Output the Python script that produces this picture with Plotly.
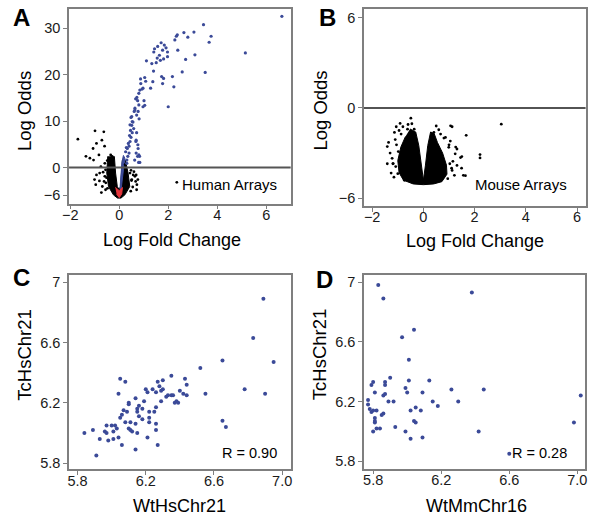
import plotly.graph_objects as go

W, H = 600, 524
FONT = "Liberation Sans, Arial, Helvetica, sans-serif"
BLUE = "#3b4a98"
RED = "#e3343a"

# ---------------- Panel A: Human arrays (volcano) ----------------
# dense core of the volcano (outline of the black cloud)
a_core_x = [-0.47, -0.51, -0.44, -0.24, -0.07, 0.07, 0.23, 0.43, 0.36, 0.25, 0.13, 0.09, 0.05,
            0.0, -0.08, -0.15, -0.2]
a_core_y = [2.4, -1.2, -4.1, -5.9, -6.6, -6.6, -5.9, -4.1, -1.2, 1.6, 1.6, -1.2, -4.1,
            -4.8, -4.1, -1.2, 2.4]
# blue inner streak on the right arm
a_streak_x = [0.03, 0.07, 0.11, 0.17, 0.23, 0.17, 0.12, 0.07]
a_streak_y = [-4.6, -1.5, 1.2, 2.6, 2.0, -0.5, -3.5, -5.0]
# red tip at the bottom
a_tip_x = [-0.16, -0.05, 0.0, 0.05, 0.13, 0.1, 0.0, -0.11]
a_tip_y = [-4.3, -4.7, -5.0, -4.7, -4.3, -5.7, -6.5, -5.7]

a_blue_x = [6.64, 3.44, 3.75, 3.67, 3.05, 2.64, 2.80, 2.37, 2.33, 2.27, 2.39, 3.09, 2.71, 5.15,
            3.51, 2.57, 2.17, 2.23, 2.00, 1.57, 1.71, 1.84, 1.91, 1.77, 1.44, 1.41, 1.97, 1.64,
            1.81, 1.68, 1.55, 1.51, 1.33, 1.11, 1.40, 1.97, 1.73, 1.81, 1.77, 1.37, 1.28, 0.87,
            1.04, 0.88, 1.08, 0.97, 0.84, 0.93, 0.80, 0.72, 0.75, 0.67, 1.01, 1.04, 0.97, 0.80,
            0.64, 0.61, 0.77, 0.51, 0.53, 0.81, 0.44, 0.31, 0.31, 0.35, 0.40, 0.33, 0.40, 0.44,
            0.48, 0.53, 0.59, 0.51, 0.48, 0.71, 0.68, 0.77, 0.75, 0.84, 0.80, 0.71, 0.64, 0.69,
            0.76, 0.69, 0.83, 0.63, 0.79, 0.26, 0.29, 0.37, 0.42, 0.46, 0.56]
a_blue_y = [32.6, 30.8, 28.3, 27.0, 29.2, 29.1, 28.1, 28.6, 28.3, 27.5, 25.3, 24.3, 23.3, 24.7,
            20.5, 20.6, 19.6, 17.4, 13.1, 26.1, 26.9, 26.4, 25.8, 25.3, 25.6, 24.9, 24.9, 24.2,
            23.4, 23.1, 23.6, 22.6, 22.4, 23.0, 20.8, 23.9, 19.6, 19.2, 18.1, 18.5, 17.1, 19.1,
            19.4, 18.1, 18.6, 17.1, 16.7, 16.9, 16.0, 15.1, 14.4, 14.8, 14.4, 13.4, 13.1, 13.5,
            12.8, 12.1, 12.1, 11.0, 9.9, 10.5, 9.2, 0.9, 1.6, 2.4, 3.1, 4.1, 4.6, 5.6,
            6.5, 7.5, 8.4, 9.1, 10.8, 7.5, 5.6, 4.1, 2.4, 1.1, 2.7, 11.3, 12.4, 5.9,
            4.9, 3.1, 2.4, 1.6, 1.1, 3.4, 4.3, 5.2, 6.9, 8.0, 9.8]

a_black_x = [-1.69, -0.99, -0.63, -0.93, -1.07, -0.71, -0.60, -0.83, -1.20, -1.05, -1.36, -0.35,
             -0.29, -0.49, -0.59, -0.75, -0.56, -0.80, -1.01, -0.93, -0.81, -0.69, -0.96, -0.73,
             -0.56, -0.59, -0.43, 0.44, 0.57, 0.67, 0.51, 0.71, 0.64, 0.37, 2.35, 0.24, 0.69,
             0.76, 0.72, -0.52, -0.55, -0.48, 0.48, 0.50, 0.47, -0.62, -0.66, 0.55, 0.60]
a_black_y = [6.1, 7.9, 7.7, 5.2, 4.1, 5.9, 4.6, 2.7, 2.0, 1.6, 2.4, 2.7,
             2.4, 1.5, 0.9, 0.2, -0.5, -1.2, -2.6, -1.6, -2.9, -4.1, -3.7, -5.4,
             -4.8, -1.9, -0.1, -1.2, -1.6, -3.0, -2.6, -4.8, -1.9, -3.7, -3.2, 0.6, -1.6,
             -2.6, -3.7, -2.2, -3.3, -4.5, -0.6, -2.8, -5.1, -3.0, -1.0, -4.2, -0.9]

# ---------------- Panel B: Mouse arrays (volcano) ----------------
b_core_x = [-0.52, -0.3, -0.18, -0.08, 0.0, 0.08, 0.17, 0.28, 0.42, 0.55, 0.75, 0.9, 0.92,
            0.72, 0.4, 0.0, -0.4, -0.78, -0.95, -1.0, -0.88, -0.7]
b_core_y = [-1.4, -1.6, -2.5, -3.8, -4.8, -3.8, -2.5, -1.6, -1.7, -2.3, -3.0, -3.8, -4.4,
            -4.9, -5.05, -5.1, -5.05, -4.8, -4.3, -3.5, -2.6, -1.9]

b_black_x = [-0.49, -0.91, -1.06, -1.36, -1.41, -1.41, -1.19, -1.26, -1.00, -0.87, -0.74, -1.13,
             -0.87, -0.62, -0.36, 1.12, 1.67, 3.04, 2.21, 2.21, 1.56, 1.50, 1.31, 1.24, 1.31,
             1.12, 1.03, 0.86, 0.67, 0.41, 0.99, 1.21, 1.06, 1.45, 1.26, 1.49, 1.64, -1.18,
             -1.30, -1.10, -0.95, -1.15, 1.05, 0.95, 1.10, -0.98, -1.08, -1.22, -1.05, -0.80,
             -0.60, 0.60, 0.80, 1.00, 1.15, 0.50, -0.45]
b_black_y = [-0.68, -1.03, -1.25, -2.29, -2.57, -3.71, -3.71, -4.33, -4.37, -4.15, -4.81, -1.63,
             -1.74, -1.41, -1.41, -1.25, -1.82, -1.08, -3.10, -3.32, -4.48, -3.23, -2.73, -3.05,
             -3.82, -4.15, -3.71, -1.96, -1.74, -1.63, -2.62, -4.48, -1.19, -3.30, -2.60, -4.00,
             -4.50, -3.70, -3.00, -2.10, -1.50, -4.60, -2.20, -4.70, -4.00, -2.90, -3.90, -3.35,
             -2.45, -1.25, -1.10, -1.45, -2.00, -2.45, -3.55, -1.20, -1.05]

# ---------------- Panel C ----------------
c_x = [5.84, 5.89, 5.91, 5.93, 5.96, 5.97, 5.97, 5.98, 6.00, 6.01, 6.01, 6.02, 6.03, 6.04, 6.04,
       6.05, 6.05, 6.06, 6.06, 6.07, 6.08, 6.08, 6.09, 6.10, 6.10, 6.10, 6.11, 6.11, 6.12, 6.14,
       6.14, 6.14, 6.15, 6.15, 6.15, 6.16, 6.16, 6.18, 6.18, 6.19, 6.20, 6.21, 6.21, 6.22, 6.22,
       6.22, 6.24, 6.25, 6.26, 6.26, 6.26, 6.26, 6.27, 6.27, 6.28, 6.29, 6.29, 6.30, 6.30, 6.32,
       6.33, 6.35, 6.35, 6.36, 6.37, 6.38, 6.39, 6.40, 6.42, 6.43, 6.44, 6.44, 6.52, 6.55, 6.65,
       6.65, 6.67, 6.78, 6.83, 6.89, 6.90, 6.95]
c_y = [6.00, 6.02, 5.85, 5.96, 6.01, 6.00, 6.05, 5.95, 6.05, 5.96, 6.01, 6.05, 6.03, 5.97, 6.26,
       6.36, 6.10, 6.12, 5.92, 6.15, 6.34, 6.07, 6.14, 6.20, 6.19, 6.03, 6.07, 6.02, 6.01, 6.23,
       6.06, 5.89, 6.16, 6.14, 6.00, 6.18, 6.11, 6.09, 6.16, 6.21, 6.29, 5.97, 6.27, 6.14, 6.07,
       6.10, 6.29, 6.14, 6.27, 6.17, 6.06, 6.02, 6.34, 5.92, 6.31, 6.28, 6.21, 6.29, 6.35, 6.24,
       6.25, 6.38, 6.25, 6.25, 6.20, 6.21, 6.20, 6.28, 6.26, 6.36, 6.25, 6.32, 6.43, 6.26, 6.48,
       6.08, 6.04, 6.29, 6.63, 6.89, 6.26, 6.47]

# ---------------- Panel D ----------------
d_x = [5.83, 5.86, 6.04, 5.97, 6.38, 6.01, 5.80, 5.79, 5.81, 5.87, 5.87, 5.90, 5.86, 5.87, 5.77,
       5.77, 5.78, 5.79, 5.80, 5.82, 5.81, 5.81, 5.81, 5.86, 5.85, 5.80, 5.82, 5.84, 5.89, 5.92,
       5.93, 5.99, 6.00, 6.01, 5.99, 6.02, 6.02, 6.04, 6.05, 6.05, 6.08, 6.09, 6.09, 6.13, 6.15,
       6.18, 6.26, 6.30, 6.42, 6.45, 6.60, 6.98, 7.02]
d_y = [6.98, 6.89, 6.68, 6.63, 6.93, 6.48, 6.33, 6.31, 6.26, 6.33, 6.31, 6.36, 6.24, 6.25, 6.21,
       6.18, 6.15, 6.13, 6.14, 6.14, 6.07, 6.06, 6.09, 6.12, 6.11, 6.00, 6.02, 6.02, 6.20, 6.20,
       6.03, 6.29, 6.26, 6.34, 6.00, 6.14, 5.95, 6.07, 6.06, 6.16, 6.14, 6.26, 5.96, 6.34, 6.20,
       6.17, 6.28, 6.20, 6.00, 6.28, 5.85, 6.06, 6.24]

fig = go.Figure()

def poly(x, y, color, xa, ya):
    fig.add_trace(go.Scatter(x=x, y=y, mode="lines", fill="toself", fillcolor=color,
                             line=dict(width=1, color=color), xaxis=xa, yaxis=ya,
                             hoverinfo="skip", showlegend=False))

def pts(x, y, color, size, xa, ya):
    fig.add_trace(go.Scatter(x=x, y=y, mode="markers", marker=dict(size=size, color=color,
                             line=dict(width=0)), xaxis=xa, yaxis=ya, showlegend=False))

# A
poly(a_core_x, a_core_y, "black", "x", "y")
poly(a_streak_x, a_streak_y, BLUE, "x", "y")
poly(a_tip_x, a_tip_y, RED, "x", "y")
pts(a_black_x, a_black_y, "black", 2.8, "x", "y")
pts(a_blue_x, a_blue_y, BLUE, 3.2, "x", "y")
# B
poly(b_core_x, b_core_y, "black", "x2", "y2")
pts(b_black_x, b_black_y, "black", 2.8, "x2", "y2")
# C, D
pts(c_x, c_y, BLUE, 4, "x3", "y3")
pts(d_x, d_y, BLUE, 4, "x4", "y4")

def ax(domain, rng, tickvals, ticktext=None, anchor=None, xaxis=True):
    d = dict(domain=domain, range=rng, tickvals=tickvals, showgrid=False, zeroline=False,
             showline=True, mirror=True, linecolor="#7f7f7f", linewidth=1.5,
             ticks="outside", ticklen=4, tickwidth=1, tickcolor="#7f7f7f",
             tickfont=dict(family=FONT, size=14.5, color="#1a1a1a"), anchor=anchor)
    if xaxis:
        d["ticklabelstandoff"] = -7
    if ticktext is not None:
        d["ticktext"] = ticktext
    return d

fig.update_layout(
    width=W, height=H, margin=dict(l=0, r=0, t=0, b=0),
    paper_bgcolor="white", plot_bgcolor="white", showlegend=False,
    xaxis=ax([0.105, 0.48], [-2.05, 7.0], [-2, 0, 2, 4, 6], anchor="y"),
    yaxis=ax([0.611, 0.984], [-7.8, 34.1], [-6, 0, 10, 20, 30], anchor="x", xaxis=False),
    xaxis2=ax([0.604, 0.979], [-2.32, 6.33], [-2, 0, 2, 4, 6], anchor="y2"),
    yaxis2=ax([0.607, 0.984], [-6.5, 6.55], [-6, 0, 6], anchor="x2", xaxis=False),
    xaxis3=ax([0.105, 0.48], [5.75, 7.05], [5.8, 6.2, 6.6, 7.0], ["5.8", "6.2", "6.6", "7.0"], anchor="y3"),
    yaxis3=ax([0.101, 0.475], [5.758, 7.051], [5.8, 6.2, 6.6, 7.0], ["5.8", "6.2", "6.6", "7"], anchor="x3", xaxis=False),
    xaxis4=ax([0.604, 0.978], [5.746, 7.045], [5.8, 6.2, 6.6, 7.0], ["5.8", "6.2", "6.6", "7.0"], anchor="y4"),
    yaxis4=ax([0.1025, 0.4746], [5.751, 7.049], [5.8, 6.2, 6.6, 7.0], ["5.8", "6.2", "6.6", "7"], anchor="x4", xaxis=False),
)

# zero lines
fig.add_shape(type="line", xref="x domain", yref="y", x0=0, x1=1, y0=0, y1=0,
              line=dict(color="#555555", width=2.2), layer="above")
fig.add_shape(type="line", xref="x2 domain", yref="y2", x0=0, x1=1, y0=0, y1=0,
              line=dict(color="#1a1a1a", width=1.5), layer="above")

def ann(text, px, py, size, angle=0, xanchor="center", bold=False):
    fig.add_annotation(text=("<b>%s</b>" % text) if bold else text, x=px / W, y=1 - py / H,
                       xref="paper", yref="paper", showarrow=False, textangle=angle,
                       xanchor=xanchor, yanchor="middle",
                       font=dict(family=FONT, size=size, color="black"))

# panel letters
ann("A", 15, 17, 24, bold=True)
ann("B", 325, 17, 24, bold=True)
ann("C", 15, 278, 24, bold=True)
ann("D", 322, 280, 24, bold=True)
# axis titles
ann("Log Odds", 18, 111, 18.5, angle=-90)
ann("Log Odds", 318, 110, 18.5, angle=-90)
ann("TcHsChr21", 18, 356, 18.5, angle=-90)
ann("TcHsChr21", 318, 355, 18.5, angle=-90)
ann("Log Fold Change", 168, 240, 18)
ann("Log Fold Change", 475, 241, 18)
ann("WtHsChr21", 175, 508, 18)
ann("WtMmChr16", 477, 508, 18)
# in-plot labels
ann("Human Arrays", 276, 185, 15, xanchor="right")
ann("Mouse Arrays", 571, 185, 15, xanchor="right")
ann("R = 0.90", 276, 455, 14.5, xanchor="right")
ann("R = 0.28", 571, 455, 14.5, xanchor="right")

fig.write_html("out.html", config={"displayModeBar": False},
               post_script="document.body.style.margin='0px';document.body.style.overflow='hidden';")
